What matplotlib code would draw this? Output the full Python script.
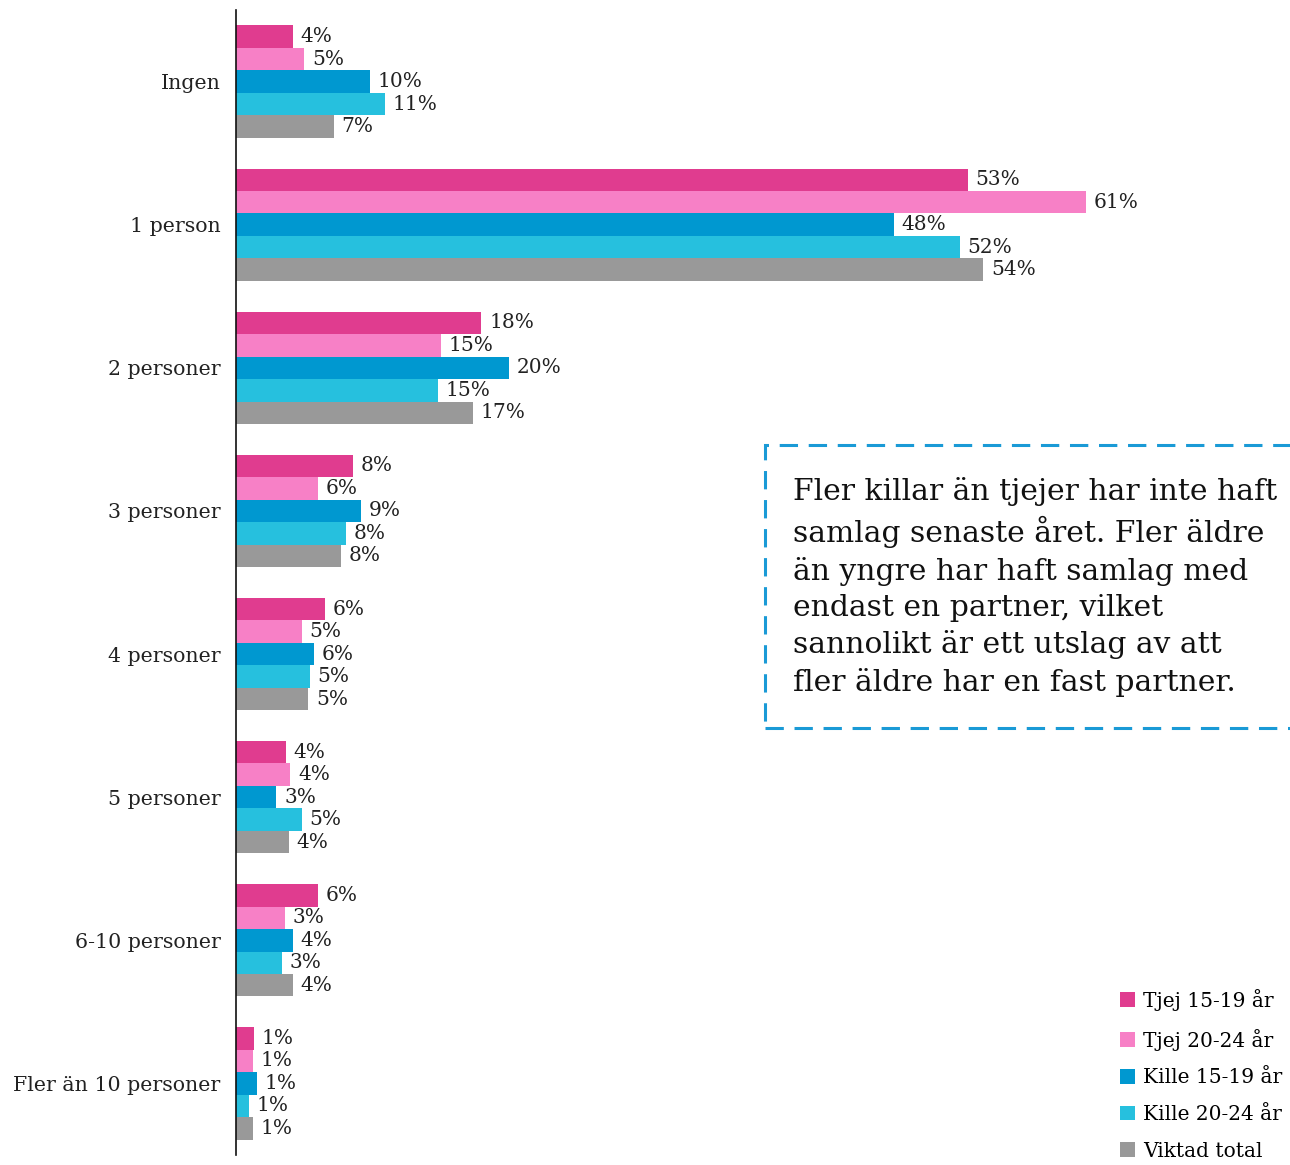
import numpy as np
import matplotlib
matplotlib.use("Agg")
import matplotlib.pyplot as plt
from matplotlib.patches import Rectangle

plt.rcParams["font.family"] = ["DejaVu Serif"]

categories = ["Ingen", "1 person", "2 personer", "3 personer", "4 personer",
              "5 personer", "6-10 personer", "Fler än 10 personer"]
series = ["Tjej 15-19 år", "Tjej 20-24 år", "Kille 15-19 år", "Kille 20-24 år", "Viktad total"]
colors = ["#e03c8f", "#f780c6", "#0098d0", "#26c0de", "#999999"]

# bar lengths (%)
tjej_1519 = [4.1, 52.5, 17.6, 8.4, 6.4, 3.6, 5.9, 1.3]
tjej_2024 = [4.9, 61.0, 14.7, 5.9, 4.7, 3.9, 3.5, 1.2]
kille_1519 = [9.6, 47.2, 19.6, 9.0, 5.6, 2.9, 4.1, 1.5]
kille_2024 = [10.7, 51.9, 14.5, 7.9, 5.3, 4.7, 3.3, 0.9]
viktad = [7.0, 53.6, 17.0, 7.5, 5.2, 3.8, 4.1, 1.2]

# printed labels
lab_tjej_1519 = [4, 53, 18, 8, 6, 4, 6, 1]
lab_tjej_2024 = [5, 61, 15, 6, 5, 4, 3, 1]
lab_kille_1519 = [10, 48, 20, 9, 6, 3, 4, 1]
lab_kille_2024 = [11, 52, 15, 8, 5, 5, 3, 1]
lab_viktad = [7, 54, 17, 8, 5, 4, 4, 1]

values = [tjej_1519, tjej_2024, kille_1519, kille_2024, viktad]
labels = [lab_tjej_1519, lab_tjej_2024, lab_kille_1519, lab_kille_2024, lab_viktad]

note = ("Fler killar än tjejer har inte haft\n"
        "samlag senaste året. Fler äldre\n"
        "än yngre har haft samlag med\n"
        "endast en partner, vilket\n"
        "sannolikt är ett utslag av att\n"
        "fler äldre har en fast partner.")

fig = plt.figure(figsize=(12.9, 11.65), dpi=100)
ax = fig.add_axes([236 / 1290, 10 / 1165, 1054 / 1290, 1145 / 1165])

y = np.arange(len(categories))
h = 0.157
for i, (vals, labs) in enumerate(zip(values, labels)):
    pos = y + (i - 2) * h
    ax.barh(pos, vals, height=h, color=colors[i], label=series[i])
    for p, v, l in zip(pos, vals, labs):
        ax.text(v + 0.55, p, f"{l}%", va="center", ha="left", fontsize=14.5, color="#222222")

ax.set_xlim(0, 75.6)
ax.set_ylim(7.5, -0.5)
ax.set_yticks(y)
ax.set_yticklabels(categories, fontsize=14.8, color="#222222")
ax.tick_params(axis="y", length=0, pad=11)
ax.set_xticks([])
for s in ["top", "right", "bottom"]:
    ax.spines[s].set_visible(False)
ax.spines["left"].set_linewidth(1.2)
ax.spines["left"].set_color("#111111")

# dashed comment box
box = Rectangle((765 / 1290, 1 - 728 / 1165), 560 / 1290, 283 / 1165, transform=fig.transFigure,
                fill=False, edgecolor="#1a9ad6", linewidth=2.2, linestyle=(0, (6, 3.5)))
fig.add_artist(box)
fig.text(793 / 1290, 1 - 587 / 1165, note, fontsize=21.4, va="center", ha="left",
         linespacing=1.37, color="#111111")

leg = ax.legend(loc="lower right", bbox_to_anchor=(1.0, -0.012), frameon=False,
                fontsize=14.5, handlelength=0.75, handleheight=0.75, handletextpad=0.4,
                labelspacing=0.88, borderaxespad=0)

fig.savefig("out.png", dpi=100)
